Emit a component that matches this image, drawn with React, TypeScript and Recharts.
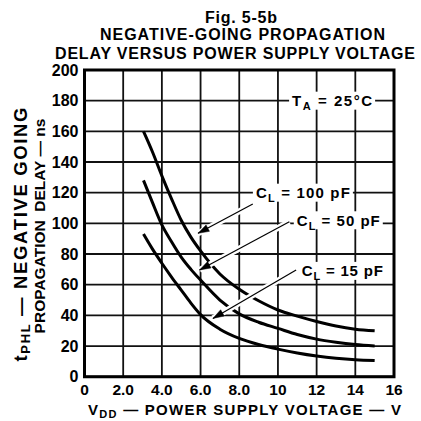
import React from 'react';
import { LineChart, Line, XAxis, YAxis, CartesianGrid, ReferenceArea, ReferenceDot } from 'recharts';

// Supply voltage VDD (V)
const voltages = [3.05, 3.5, 4, 4.5, 5, 5.5, 6, 7, 8, 9, 10, 11, 12, 13, 14, 15];
// tPHL (ns) per load capacitance
const delay100pF = [160, 147, 131, 116, 102, 91, 82, 67, 57, 49.5, 43.5, 39.5, 36, 33, 31, 30];
const delay50pF = [128, 114, 99, 88, 78, 70, 63, 50, 41, 35.5, 31.5, 27.5, 24.5, 22.5, 21, 20];
const delay15pF = [93, 83.5, 74, 65, 56.5, 48, 40.5, 31, 25, 21, 18, 15.5, 13.5, 12, 11, 10.5];

const xTicks = [0, 2, 4, 6, 8, 10, 12, 14, 16];
const xTickLabels = ['0', '2.0', '4.0', '6.0', '8.0', '10', '12', '14', '16'];
const yTicks = [0, 20, 40, 60, 80, 100, 120, 140, 160, 180, 200];

// Leader arrows (from label to curve), in data units
const arrow100pF = [{ x: 8.7, y: 112.6 }, { x: 5.87, y: 93.5 }];
const arrow50pF = [{ x: 10.59, y: 101 }, { x: 5.95, y: 69.6 }];
const arrow15pF = [{ x: 10.94, y: 69.6 }, { x: 6.64, y: 38 }];

// Annotation anchors, in data units
const labelTA = { x: 12.8, y: 180 };
const label100pF = { x: 11.29, y: 120 };
const label50pF = { x: 13.12, y: 102 };
const label15pF = { x: 13.33, y: 69 };

const data = voltages.map((v, i) => ({
  x: v,
  c100: delay100pF[i],
  c50: delay50pF[i],
  c15: delay15pF[i],
}));

const FONT = '"Liberation Sans", Arial, Helvetica, sans-serif';

const ArrowDot = (props: any) => {
  const { cx, cy, index, points } = props;
  if (index !== 1 || !points || points.length < 2) return <g key={`d${index}`} />;
  const p0 = points[0];
  const dx = cx - p0.x;
  const dy = cy - p0.y;
  const len = Math.hypot(dx, dy) || 1;
  const ux = dx / len;
  const uy = dy / len;
  const L = 11;
  const W = 3.6;
  const bx = cx - ux * L;
  const by = cy - uy * L;
  const pts = `${cx},${cy} ${bx - uy * W},${by + ux * W} ${bx + uy * W},${by - ux * W}`;
  return <polygon key={`d${index}`} points={pts} fill="#000" stroke="#000" strokeWidth={0.5} />;
};

const makeLabel = (main: string, sub: string, rest: string, textWidth: number) => (props: any) => {
  const { cx, cy } = props;
  const pad = 3;
  return (
    <g>
      <rect x={cx - textWidth / 2 - pad} y={cy - 9} width={textWidth + pad * 2} height={18} fill="#fff" />
      <text
        x={cx}
        y={cy + 5.4}
        textAnchor="middle"
        fontFamily={FONT}
        fontWeight="bold"
        fontSize={15}
        fill="#000"
        textLength={textWidth}
        lengthAdjust="spacing"
      >
        {main}
        <tspan fontSize={11} dy={4}>{sub}</tspan>
        <tspan dy={-4}>{rest}</tspan>
      </text>
    </g>
  );
};

export default function App() {
  return (
    <div style={{ position: 'absolute', top: 0, left: 0, width: 421, height: 421, background: '#fff' }}>
      <LineChart
        width={421}
        height={421}
        data={data}
        margin={{ top: 70, right: 27, bottom: 0, left: 0 }}
      >
        <CartesianGrid stroke="#111" strokeWidth={1.8} />
        <XAxis
          type="number"
          dataKey="x"
          domain={[0, 16]}
          ticks={xTicks}
          interval={0}
          height={44.3}
          axisLine={false}
          tickLine={false}
          tickSize={6}
          tickMargin={1}
          tickFormatter={(v: number) => xTickLabels[xTicks.indexOf(v)]}
          tick={{ fill: '#000', fontSize: 15.5, fontWeight: 'bold', fontFamily: FONT }}
        />
        <YAxis
          type="number"
          domain={[0, 200]}
          ticks={yTicks}
          interval={0}
          width={84.5}
          axisLine={false}
          tickLine={false}
          tickSize={6}
          tickMargin={0}
          tick={{ fill: '#000', fontSize: 16, fontWeight: 'bold', fontFamily: FONT }}
        />
        <Line dataKey="c100" type="monotone" stroke="#000" strokeWidth={3} dot={false} activeDot={false} isAnimationActive={false} />
        <Line dataKey="c50" type="monotone" stroke="#000" strokeWidth={3} dot={false} activeDot={false} isAnimationActive={false} />
        <Line dataKey="c15" type="monotone" stroke="#000" strokeWidth={3} dot={false} activeDot={false} isAnimationActive={false} />

        <Line data={arrow100pF} dataKey="y" type="linear" stroke="#fff" strokeWidth={6} dot={false} activeDot={false} isAnimationActive={false} />
        <Line data={arrow50pF} dataKey="y" type="linear" stroke="#fff" strokeWidth={6} dot={false} activeDot={false} isAnimationActive={false} />
        <Line data={arrow15pF} dataKey="y" type="linear" stroke="#fff" strokeWidth={6} dot={false} activeDot={false} isAnimationActive={false} />
        <Line data={arrow100pF} dataKey="y" type="linear" stroke="#000" strokeWidth={1.2} dot={ArrowDot} activeDot={false} isAnimationActive={false} />
        <Line data={arrow50pF} dataKey="y" type="linear" stroke="#000" strokeWidth={1.2} dot={ArrowDot} activeDot={false} isAnimationActive={false} />
        <Line data={arrow15pF} dataKey="y" type="linear" stroke="#000" strokeWidth={1.2} dot={ArrowDot} activeDot={false} isAnimationActive={false} />

        <ReferenceArea x1={0} x2={16} y1={0} y2={200} fill="none" stroke="#000" strokeWidth={3} ifOverflow="visible" />

        <ReferenceDot x={labelTA.x} y={labelTA.y} r={1} shape={makeLabel('T', 'A', ' = 25°C', 80)} />
        <ReferenceDot x={label100pF.x} y={label100pF.y} r={1} shape={makeLabel('C', 'L', ' = 100 pF', 94)} />
        <ReferenceDot x={label50pF.x} y={label50pF.y} r={1} shape={makeLabel('C', 'L', ' = 50 pF', 83)} />
        <ReferenceDot x={label15pF.x} y={label15pF.y} r={1} shape={makeLabel('C', 'L', ' = 15 pF', 81)} />
      </LineChart>

      <svg
        width={421}
        height={421}
        style={{ position: 'absolute', top: 0, left: 0, pointerEvents: 'none' }}
        fontFamily={FONT}
        fontWeight="bold"
        fill="#000"
      >
        <text x={241} y={23} textAnchor="middle" fontSize={16} textLength={72} lengthAdjust="spacing">Fig. 5-5b</text>
        <text x={242.5} y={39.5} textAnchor="middle" fontSize={16} textLength={285} lengthAdjust="spacing">NEGATIVE-GOING PROPAGATION</text>
        <text x={235} y={58.5} textAnchor="middle" fontSize={16} textLength={360} lengthAdjust="spacing">DELAY VERSUS POWER SUPPLY VOLTAGE</text>

        <text x={244.5} y={414.5} textAnchor="middle" fontSize={15} textLength={313} lengthAdjust="spacing">
          V<tspan fontSize={11} dy={3}>DD</tspan><tspan dy={-3}> — POWER SUPPLY VOLTAGE — V</tspan>
        </text>

        <text transform="translate(27,234.5) rotate(-90)" textAnchor="middle" fontSize={18.5} textLength={254} lengthAdjust="spacing">
          t<tspan fontSize={13} dy={3}>PHL</tspan><tspan dy={-3}> — NEGATIVE GOING</tspan>
        </text>
        <text transform="translate(45,226) rotate(-90)" textAnchor="middle" fontSize={15.5} style={{ whiteSpace: 'pre' }}>
          {'PROPAGATION  DELAY — ns'}
        </text>
      </svg>
    </div>
  );
}
